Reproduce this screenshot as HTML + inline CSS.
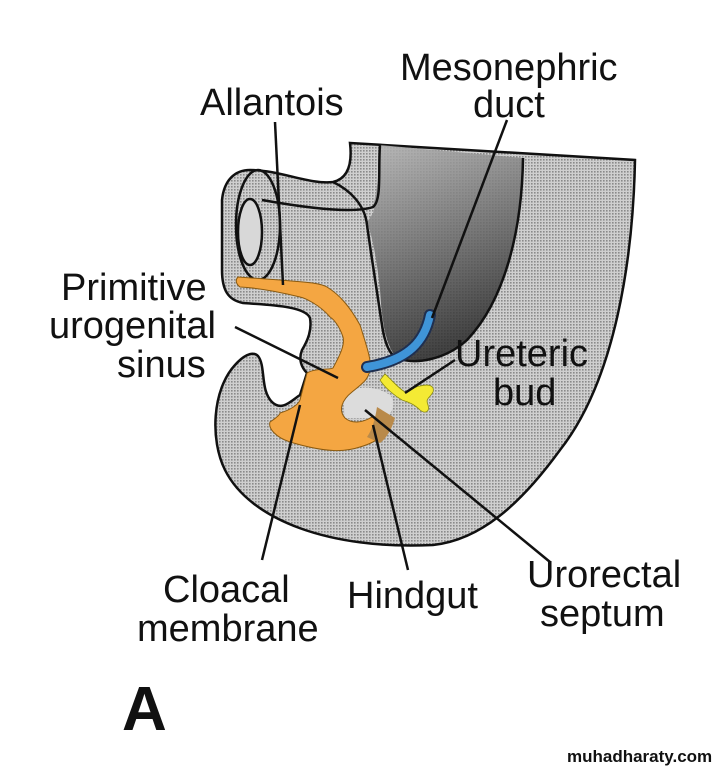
<!DOCTYPE html>
<html><head><meta charset="utf-8"><style>
html,body{margin:0;padding:0;background:#fff;}
svg{display:block;}
text{font-family:"Liberation Sans",Arial,sans-serif;fill:#111;}
</style></head><body>
<svg width="718" height="768" viewBox="0 0 718 768" xmlns="http://www.w3.org/2000/svg">
<defs>
<pattern id="dots" width="3" height="3" patternUnits="userSpaceOnUse">
<rect width="3" height="3" fill="#cfcfcf"/><rect width="1.6" height="1.6" fill="#8a8a8a"/>
</pattern>
<linearGradient id="dark" x1="0" y1="0" x2="0.3" y2="1">
<stop offset="0" stop-color="#b5b5b5"/><stop offset="0.6" stop-color="#626262"/><stop offset="1" stop-color="#2a2a2a"/>
</linearGradient>
</defs>
<path d="M350,143 L635,160 C633,260 615,380 560,450 C520,505 480,540 433,545 C330,550 250,520 225,470 C210,440 212,390 235,365 C242,357 252,350 258,356 C266,366 260,390 272,402 C282,412 292,400 300,395 L307,373 C302,368 298,360 302,350 C308,340 312,330 310,318 C305,306 270,305 243,303 C228,300 222,290 222,270 L222,200 C224,180 235,170 250,170 C280,170 310,185 333,182 C350,178 352,160 350,143 Z" fill="url(#dots)" stroke="#111" stroke-width="2.5"/>
<path d="M380,145 L523,158 C522,230 505,300 467,340 C445,360 415,365 397,358 C385,345 382,320 380,290 C377,260 372,235 367,222 C372,215 376,210 373,207 C378,185 380,165 380,145 Z" fill="url(#dark)" opacity="0.85"/>
<path d="M523,158 C522,230 505,300 467,340 C445,360 415,365 397,358" fill="none" stroke="#111" stroke-width="2.5"/>
<path d="M380,145 C378,170 382,200 373,207 C350,215 290,205 262,200" fill="none" stroke="#111" stroke-width="2.5"/>
<path d="M333,182 C350,190 365,205 367,225 C372,260 378,300 382,325 C385,345 390,355 397,358" fill="none" stroke="#111" stroke-width="2.5"/>
<ellipse cx="258" cy="225" rx="22" ry="55" fill="none" stroke="#111" stroke-width="2.5"/>
<ellipse cx="250" cy="232" rx="12" ry="33" fill="#d8d8d8" stroke="#111" stroke-width="2.5"/>
<path d="M343,395 C355,385 375,385 390,395 C398,405 390,415 385,418 L345,418 Z" fill="#dcdcdc"/>
<path d="M238,277 L280,280 C300,282 318,282 327,287 C340,295 350,307 360,325 C367,347 372,362 370,370 C368,380 363,383 352,392 C342,400 338,410 345,418 C352,424 362,423 372,417 L387,417 C392,425 385,440 360,447 C345,452 327,453 290,442 C275,437 268,428 270,422 C276,418 280,415 280,413 C290,410 298,405 300,400 L307,373 C315,368 330,370 333,368 C340,355 345,345 343,337 C340,328 335,320 330,317 C320,305 305,298 300,297 C280,292 260,288 240,287 C236,284 235,280 238,277 Z" fill="#f4a642" stroke="#8a5a10" stroke-width="1"/>
<path d="M377,407 L395,418 C392,428 387,438 380,443 L367,437 C372,430 375,420 377,407 Z" fill="#b98a4a"/>
<path d="M430,315 C425,340 410,360 367,367" fill="none" stroke="#1f2f50" stroke-width="12" stroke-linecap="round"/>
<path d="M430,315 C425,340 410,360 367,367" fill="none" stroke="#3f94d8" stroke-width="8" stroke-linecap="round"/>
<path d="M385,374 C392,380 398,388 405,392 C410,392 415,386 420,386 C428,384 435,385 433,392 C430,398 425,398 428,405 C430,412 425,414 420,410 C414,404 408,402 402,400 C395,396 385,388 380,380 Z" fill="#f4ea34" stroke="#8a8a10" stroke-width="0.8"/>
<g stroke="#111" stroke-width="2.5" fill="none">
<line x1="275" y1="122" x2="283" y2="285"/>
<line x1="507" y1="120" x2="432" y2="318"/>
<line x1="235" y1="327" x2="338" y2="378"/>
<line x1="455" y1="360" x2="405" y2="393"/>
<line x1="262" y1="560" x2="300" y2="405"/>
<line x1="408" y1="570" x2="373" y2="425"/>
<line x1="550" y1="562" x2="365" y2="410"/>
</g>
<g font-size="38">
<text x="200" y="115">Allantois</text>
<text x="400" y="80">Mesonephric</text>
<text x="473" y="117">duct</text>
<text x="61" y="300">Primitive</text>
<text x="49" y="338">urogenital</text>
<text x="117" y="377">sinus</text>
<text x="455" y="366">Ureteric</text>
<text x="493" y="405">bud</text>
<text x="163" y="602">Cloacal</text>
<text x="137" y="641">membrane</text>
<text x="347" y="608">Hindgut</text>
<text x="527" y="587">Urorectal</text>
<text x="540" y="626">septum</text>
</g>
<text x="122" y="730" font-size="62" font-weight="bold">A</text>
<text x="567" y="762" font-size="17" font-weight="bold" fill="#222">muhadharaty.com</text>
</svg>
</body></html>
